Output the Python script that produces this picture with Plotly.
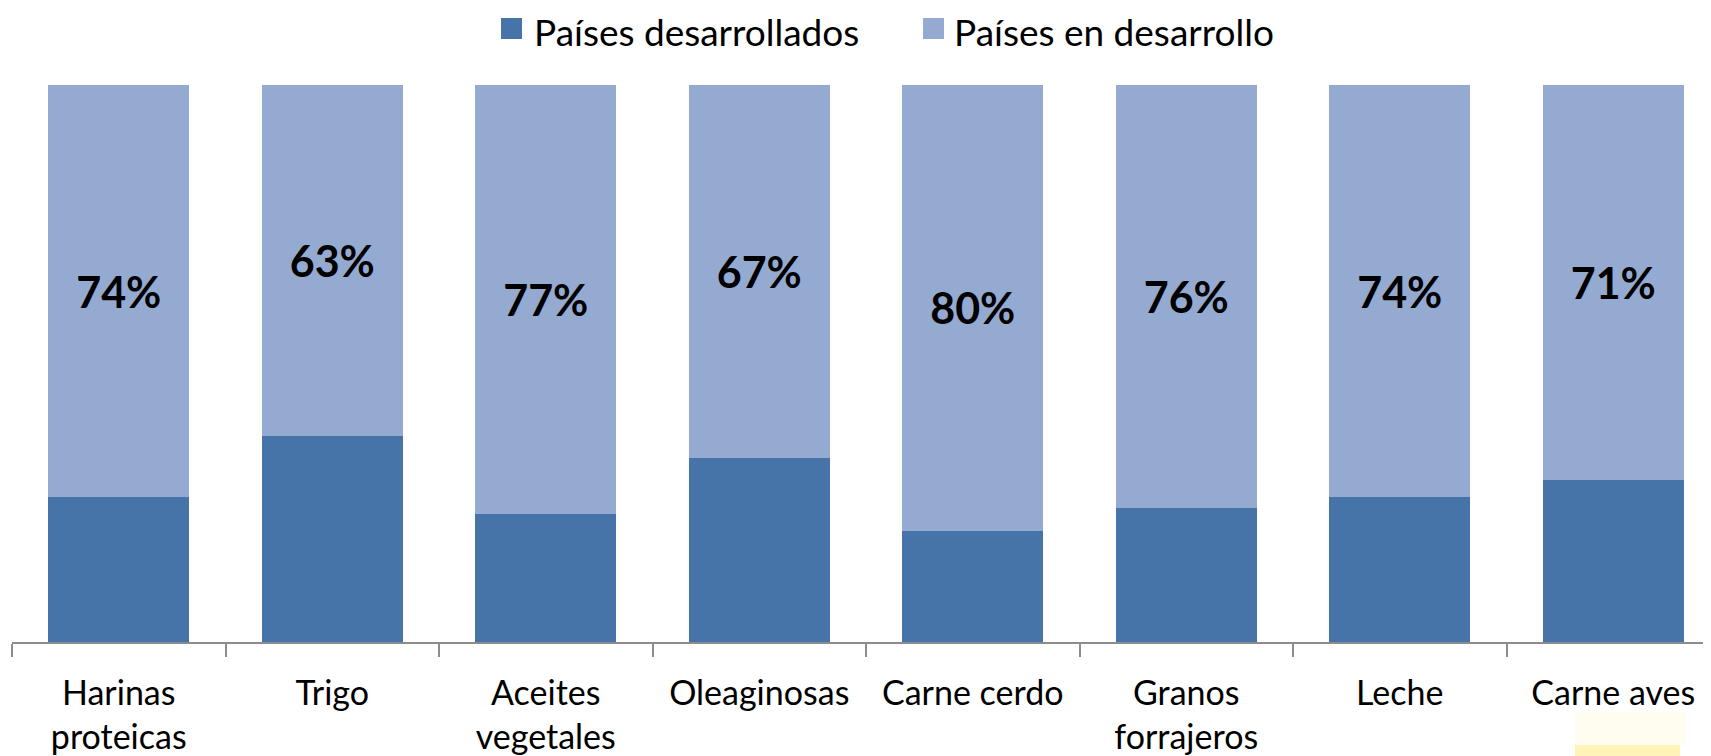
import plotly.graph_objects as go

categories = ["Harinas<br>proteicas", "Trigo", "Aceites<br>vegetales", "Oleaginosas",
              "Carne cerdo", "Granos<br>forrajeros", "Leche", "Carne aves"]
developing = [74, 63, 77, 67, 80, 76, 74, 71]
developed = [100 - v for v in developing]
series_names = ["Países desarrollados", "Países en desarrollo"]

DARK = "#4674A8"
LIGHT = "#95AAD1"
FONT = "Lato"

# page body has an 8px default margin; figure is sized to fit the window
OFF = 8
W, H = 1711 - OFF, 756 - OFF
L, R, T = 12 - OFF, 0, 85 - OFF
B = H - (642 - OFF)
pw = W - L - R
ph = H - T - B
cat_w = 213.5


def px_x(p):
    # page pixel -> paper coordinate
    return (p - OFF - L) / pw


def px_y(p):
    return (H - B - (p - OFF)) / ph


fig = go.Figure()
fig.add_trace(go.Bar(
    x=categories, y=developed, name=series_names[0],
    marker=dict(color=DARK, line=dict(width=0)),
    hoverinfo="skip", showlegend=False,
))
fig.add_trace(go.Bar(
    x=categories, y=developing, name=series_names[1],
    marker=dict(color=LIGHT, line=dict(width=0)),
    text=[f"{v}%" for v in developing],
    texttemplate="<b>%{text}</b>",
    textposition="inside", insidetextanchor="middle", textangle=0,
    textfont=dict(family=FONT, size=43, color="black"),
    hoverinfo="skip", showlegend=False,
))

# legend drawn as squares + text
legend_items = [(series_names[0], DARK, 501, 533), (series_names[1], LIGHT, 923, 953)]
for name, col, sq_x, tx_x in legend_items:
    fig.add_shape(type="rect", xref="paper", yref="paper",
                  x0=px_x(sq_x), x1=px_x(sq_x + 21), y0=px_y(39), y1=px_y(18),
                  fillcolor=col, line=dict(width=0), layer="above")
    fig.add_annotation(text=name, xref="paper", yref="paper",
                       x=px_x(tx_x), y=px_y(31.5), xanchor="left", yanchor="middle",
                       showarrow=False, borderpad=0,
                       font=dict(family=FONT, size=37, color="black"))

fig.update_layout(
    width=W, height=H,
    margin=dict(l=L, r=R, t=T, b=B, pad=0, autoexpand=False),
    barmode="stack", bargap=0.34,
    plot_bgcolor="white", paper_bgcolor="white",
    font=dict(family=FONT, size=34, color="black"),
    showlegend=False,
    uniformtext=dict(mode=False),
)
fig.update_xaxes(
    range=[-0.5, -0.5 + pw / cat_w],
    showline=True, linecolor="#8c8c8c", linewidth=1.5,
    ticks="outside", tickson="boundaries", ticklen=13, tickcolor="#8c8c8c", tickwidth=1.5,
    tickfont=dict(family=FONT, size=34, color="black"),
    ticklabelstandoff=20, automargin=False,
    showgrid=False, zeroline=False, fixedrange=True,
)
fig.update_yaxes(range=[0, 100], visible=False, showgrid=False, zeroline=False,
                 fixedrange=True, automargin=False)

# faint yellow artifact at bottom right
fig.add_shape(type="rect", xref="paper", yref="paper",
              x0=px_x(1575), x1=px_x(1686), y0=px_y(745), y1=px_y(712),
              fillcolor="#FFFDF0", line=dict(width=0), layer="below")
fig.add_shape(type="rect", xref="paper", yref="paper",
              x0=px_x(1575), x1=px_x(1680), y0=px_y(756), y1=px_y(745),
              fillcolor="#FFF3B8", line=dict(width=0), layer="above")

fig.write_html("out.html")
